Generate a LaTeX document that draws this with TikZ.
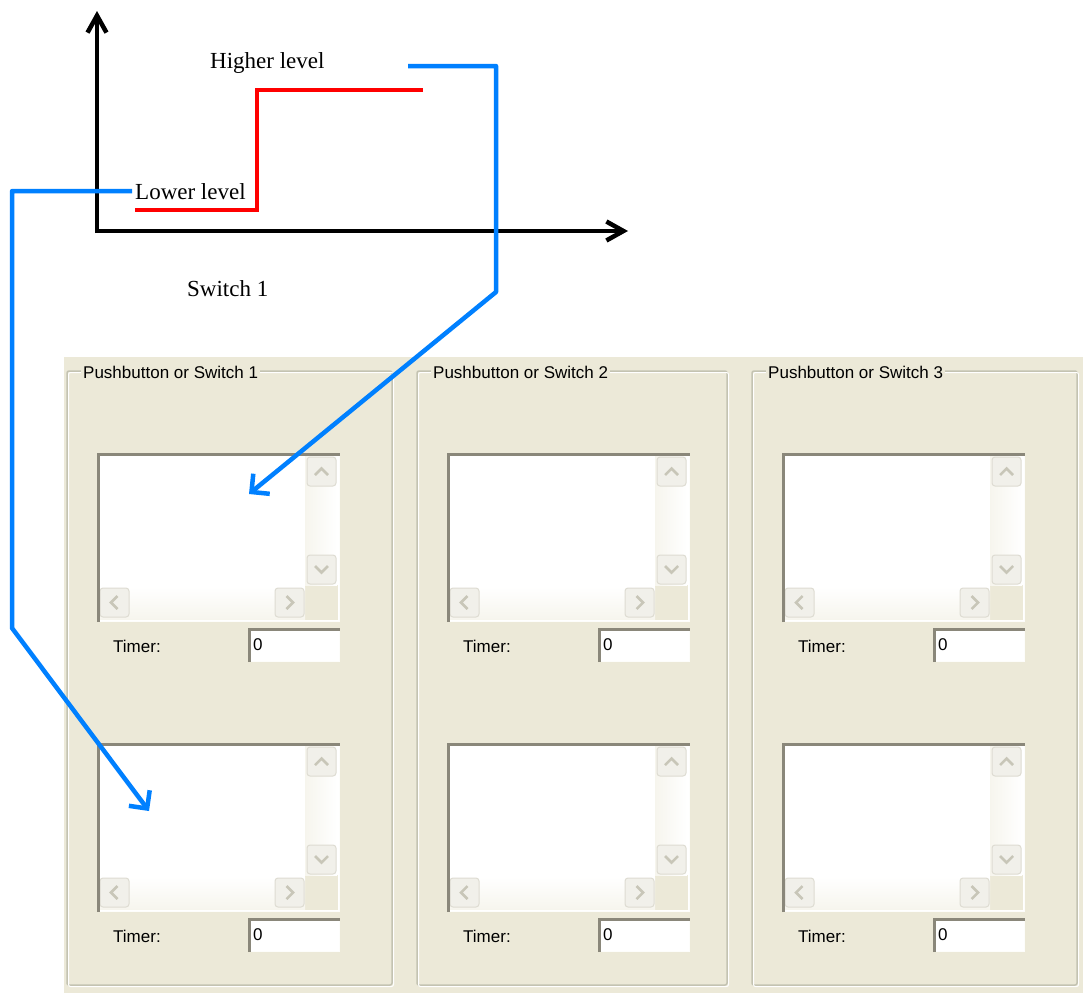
\documentclass[tikz,border=0pt]{standalone}
\usepackage{fontspec}
\setmainfont{Liberation Serif}
\newfontfamily\uifont{Liberation Sans}
\usetikzlibrary{arrows.meta}

\definecolor{panel}{HTML}{ECE9D8}
\definecolor{frameln}{HTML}{C4C3B2}
\definecolor{sunk}{HTML}{8A877A}
\definecolor{btnface}{HTML}{F1F0EA}
\definecolor{btnedge}{HTML}{DEDCD2}
\definecolor{glyph}{HTML}{C8C6B8}
\definecolor{wire}{RGB}{0,128,255}

\tikzset{
  axis/.style={line width=4.5pt, black, -{Straight Barb[length=17pt,width=19pt]}},
  level/.style={line width=4.5pt, red},
  link/.style={line width=4.5pt, wire, line join=round, -{Straight Barb[length=13pt,width=26pt]}},
  caption/.style={font=\fontsize{23}{23}\selectfont, inner sep=0pt, anchor=base west},
  uitext/.style={font=\uifont\fontsize{17}{17}\selectfont, inner sep=0pt, anchor=base west},
  grouptitle/.style={uitext, fill=panel, inner xsep=2pt, inner ysep=1pt},
  button/.style={fill=btnface, draw=btnedge, line width=1pt, rounded corners=3pt},
  chev/.style={glyph, line width=2.5pt},
}

\begin{document}
\begin{tikzpicture}[x=1pt,y=-1pt]
\useasboundingbox (0,0) rectangle (1083,993);

% dialog background
\fill[panel] (64,357) rectangle (1083,993);

% three group boxes, each with two list boxes and two timer fields
\foreach \gx/\gw/\n in {67/325/1,417/310/2,752/325/3}{
  \draw[frameln, line width=1.5pt, rounded corners=2pt] (\gx,371) rectangle (\gx+\gw,985);
  \draw[white, line width=1pt, rounded corners=2pt] (\gx+1.5,372.5) rectangle (\gx+\gw+1.5,986.5);
  \node[grouptitle] (title\n) at (\gx+14,378) {Pushbutton or Switch \n};
  \foreach \ry/\r in {0/1,290/2}{
    % list box with disabled scroll bars
    \begin{scope}[shift={(\gx+30,453+\ry)}]
      \fill[white] (0,0) rectangle (243,169);
      \fill[panel] (208,132) rectangle (241,167);
      \shade[left color=panel!45!white, right color=white] (208,3) rectangle (240,132);
      \shade[top color=white, bottom color=panel!45!white] (3,134) rectangle (208,166);
      \draw[button] (210,4) rectangle +(29,29);
      \draw[button] (210,102) rectangle +(29,29);
      \draw[button] (3,135) rectangle +(29,29);
      \draw[button] (178,135) rectangle +(29,29);
      \draw[chev] (218,22) -- (224.5,15.5) -- (231,22);
      \draw[chev] (218,113) -- (224.5,119.5) -- (231,113);
      \draw[chev] (20.5,143) -- (14,149.5) -- (20.5,156);
      \draw[chev] (189.5,143) -- (196,149.5) -- (189.5,156);
      \draw[white!90!panel, line width=1.5pt] (0,168.25) -- (242.25,168.25) -- (242.25,0);
      \draw[sunk, line width=3pt] (1.5,169) -- (1.5,1.5) -- (243,1.5);
    \end{scope}
    \node[uitext] (timer\n\r) at (\gx+46,652+\ry) {Timer:};
    % timer edit field
    \begin{scope}[shift={(\gx+181,628+\ry)}]
      \fill[white] (0,0) rectangle (92,34);
      \draw[white!90!panel, line width=1.5pt] (0,33.25) -- (91.25,33.25) -- (91.25,0);
      \draw[sunk, line width=2.5pt] (1.25,34) -- (1.25,1.25) -- (92,1.25);
      \node[uitext] (field\n\r) at (5,22) {0};
    \end{scope}
  }
}

% level diagram
\coordinate (origin) at (97,231);
\draw[axis] (97,233) -- (97,11);
\draw[axis] (95,231) -- (628,231);
\draw[level] (135,210) -- (257,210) -- (257,90) -- (423,90);

\node[caption] (high) at (210,68) {Higher level};
\node[caption, inner xsep=3pt] (low) at (132,199) {Lower level};
\node[caption] (sw) at (187,296) {Switch 1};

% pointers from the levels to the list boxes
\coordinate (hstart) at (408,66);
\coordinate (tipA) at (249,494);
\coordinate (tipB) at (149,811);
\draw[link] (hstart) -- (496,66) -- (496,292) -- (tipA);
\draw[link] (low.west) -| (12,628) -- (tipB);
\end{tikzpicture}
\end{document}
